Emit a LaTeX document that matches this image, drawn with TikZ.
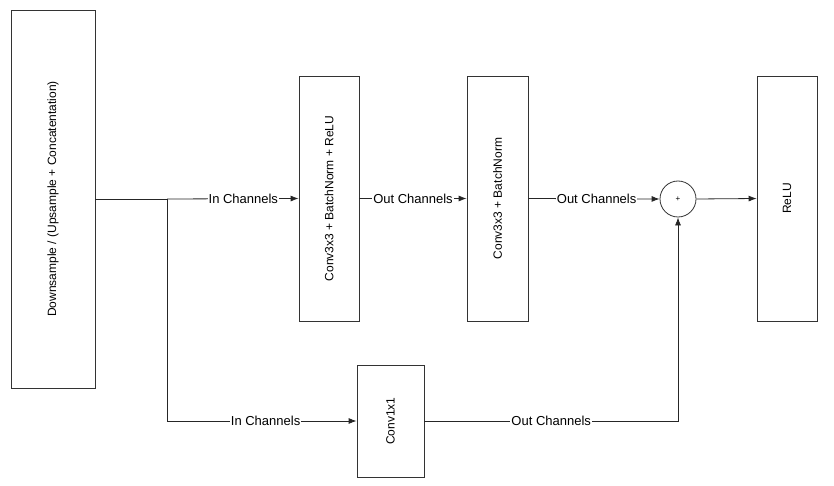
\documentclass[tikz,border=0pt]{standalone}
\usepackage{fontspec}
\setmainfont{Liberation Sans}
\usepackage{graphicx}
\usetikzlibrary{calc,arrows.meta}

\begin{document}
\begin{tikzpicture}[x=1pt,y=-1pt,>={Latex[length=8pt,width=6pt]},
    every node/.style={font=\fontsize{12}{14}\selectfont},
    block/.style={draw=black!80,line width=0.8pt,inner sep=0pt},
    chan/.style={fill=white,inner sep=1pt,font=\fontsize{13}{15}\selectfont},
    wire/.style={draw=black!85,line width=0.8pt}]
  \useasboundingbox (0,0) rectangle (834,486);

  \node[block,minimum width=84,minimum height=378] (down) at (53,199) {\rotatebox{90}{Downsample / (Upsample + Concatentation)}};
  \node[block,minimum width=60,minimum height=245] (convA) at (329,198.5) {\rotatebox{90}{Conv3x3 + BatchNorm + ReLU}};
  \node[block,minimum width=61,minimum height=245] (convB) at (497.5,198.5) {\rotatebox{90}{Conv3x3 + BatchNorm}};
  \node[block,circle,minimum size=36] (add) at (678,199) {\footnotesize +};
  \node[block,minimum width=60,minimum height=245] (relu) at (787,198.5) {\rotatebox{90}{ReLU}};
  \node[block,minimum width=67,minimum height=112] (skip) at (390.5,421) {\rotatebox{90}{Conv1x1}};

  \coordinate (split) at (167,199);

  \draw[wire] (down.east) -- (split);
  \draw[wire,->] (split) -- node[chan,pos=0.58] {In Channels} (convA.west);
  \draw[wire,->] (convA.east) -- node[chan] {Out Channels} (convB.west);
  \draw[wire,->] (convB.east) -- node[chan,pos=0.52] {Out Channels} (add.west);
  \draw[wire,->] (add.east) -- (relu.west);

  % residual branch
  \draw[wire,->] (split) |- node[chan,pos=0.76] {In Channels} (skip.west);
  \draw[wire,->] (skip.east) -| node[chan,pos=0.25] {Out Channels} (add.south);
\end{tikzpicture}
\end{document}
